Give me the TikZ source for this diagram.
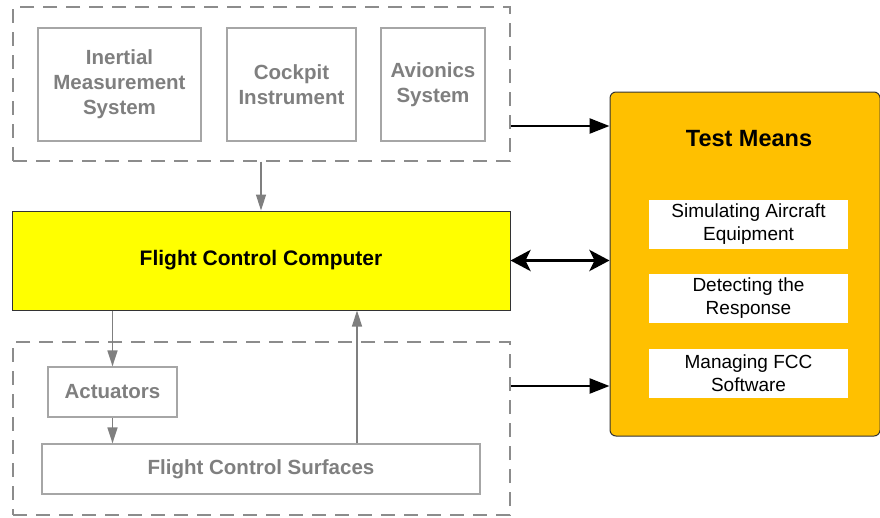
\documentclass[tikz,border=0pt]{standalone}
\usepackage{fontspec}
\setmainfont{Liberation Sans}
\usetikzlibrary{arrows.meta}
\definecolor{boxgray}{HTML}{A6A6A6}
\definecolor{txtgray}{HTML}{7F7F7F}
\definecolor{dashgray}{HTML}{8C8C8C}
\definecolor{fccyellow}{HTML}{FFFF00}
\definecolor{tmorange}{HTML}{FFC000}
\tikzset{
  graybox/.style={draw=boxgray, line width=1.2pt, fill=white, text=txtgray,
    font=\fontsize{20.5}{25}\selectfont\bfseries, align=center, inner sep=0pt},
  group/.style={draw=dashgray, line width=1.2pt, dash pattern=on 14pt off 9pt, inner sep=0pt},
  whitebox/.style={fill=white, draw=none, align=center, inner sep=0pt,
    minimum width=199pt, minimum height=49pt, font=\fontsize{19}{23}\selectfont},
  garrow/.style={draw=txtgray, line width=1.5pt, -{Triangle[length=16pt,width=10pt]}},
  barrow/.style={draw=black, line width=2.5pt, -{Triangle[length=20pt,width=15pt]}},
  dbarrow/.style={draw=black, line width=3.5pt, {Stealth[length=20pt,width=21pt,inset=5pt]}-{Stealth[length=20pt,width=21pt,inset=5pt]}},
}
\begin{document}
\begin{tikzpicture}[x=1pt, y=-1pt]
  \useasboundingbox (0,0) rectangle (880,517);

  % input group (dashed) with its three sources
  \node[group, minimum width=497pt, minimum height=154pt] (grpTop) at (261.5,84) {};
  \node[graybox, minimum width=163pt, minimum height=113pt] (ims) at (119.5,84.5) {Inertial\\Measurement\\System};
  \node[graybox, minimum width=129pt, minimum height=113pt] (cockpit) at (291.5,84.5) {Cockpit\\Instrument};
  \node[graybox, minimum width=104pt, minimum height=113pt] (avionics) at (433,84.5) {Avionics\\System};

  % flight control computer
  \node[draw=black!80, line width=1pt, fill=fccyellow, minimum width=498pt, minimum height=99pt,
        font=\fontsize{21}{25}\selectfont\bfseries, inner sep=0pt] (fcc) at (261,260.5) {Flight Control Computer};

  % output group (dashed) with actuators and surfaces
  \node[group, minimum width=497pt, minimum height=173pt] (grpBot) at (261.5,428.5) {};
  \node[graybox, minimum width=129pt, minimum height=50pt] (act) at (112.5,392) {Actuators};
  \node[graybox, minimum width=438pt, minimum height=50pt] (fcs) at (261,469) {Flight Control Surfaces};

  % test means
  \node[draw=black!80, line width=1pt, fill=tmorange, rounded corners=6pt,
        minimum width=270pt, minimum height=344pt, inner sep=0pt] (tm) at (745,264) {};
  \node[font=\fontsize{23.5}{28}\selectfont\bfseries] (tmtitle) at (749,139) {Test Means};
  \node[whitebox] (sim) at (748.5,224.5) {Simulating Aircraft\\Equipment};
  \node[whitebox] (det) at (748.5,298.5) {Detecting the\\Response};
  \node[whitebox] (mgr) at (748.5,373.5) {Managing FCC\\Software};

  % internal signal flow
  \draw[garrow] (grpTop.south -| fcc.north) -- (fcc.north);
  \draw[garrow] (fcc.south -| act.north) -- (act.north);
  \draw[garrow] (act.south) -- (act.south |- fcs.north);
  \coordinate (fbx) at (357,0);
  \draw[garrow] (fcs.north -| fbx) -- (fcc.south -| fbx);

  % links to the test means
  \coordinate (yA) at (0,126);
  \coordinate (yB) at (0,386);
  \draw[barrow] (grpTop.east |- yA) -- (tm.west |- yA);
  \draw[dbarrow] (fcc.east) -- (tm.west |- fcc.east);
  \draw[barrow] (grpBot.east |- yB) -- (tm.west |- yB);
\end{tikzpicture}
\end{document}
